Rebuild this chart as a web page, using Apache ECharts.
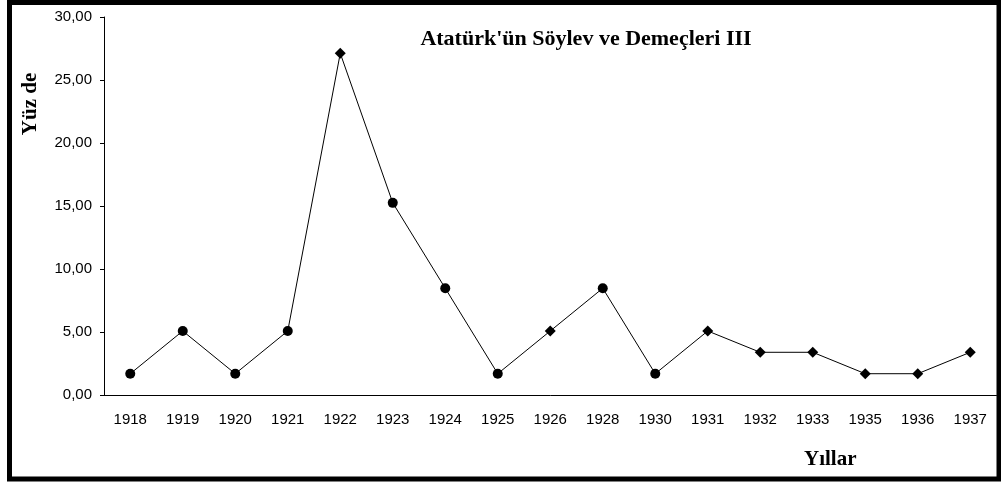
<!DOCTYPE html>
<html>
<head>
<meta charset="utf-8">
<script src="https://cdn.jsdelivr.net/npm/echarts@6/dist/echarts.min.js"></script>
<style>
  html, body { margin: 0; padding: 0; background: #fff; }
</style>
</head>
<body>
<div id="main" style="width: 1001px;height:483px;"></div>
<script>
// yıllar ve yüzde değerleri
var years = ['1918', '1919', '1920', '1921', '1922', '1923', '1924', '1925', '1926',
  '1928', '1930', '1931', '1932', '1933', '1935', '1936', '1937']
var percents = [1.69, 5.08, 1.69, 5.08, 27.12, 15.25, 8.47, 1.69, 5.08,
  8.47, 1.69, 5.08, 3.39, 3.39, 1.69, 1.69, 3.39]
var yTicks = [0, 5, 10, 15, 20, 25, 30]

var myChart = echarts.init(document.getElementById('main'))

var option = {
  animation: false,
  backgroundColor: '#fff',
  title: {
    text: "Atatürk'ün Söylev ve Demeçleri III",
    left: 581,
    top: 23,
    textAlign: 'center',
    textStyle: {
      fontFamily: 'Liberation Serif',
      fontWeight: 'bold',
      fontSize: 22,
      color: '#000'
    }
  },
  grid: {
    left: 104,
    right: 4.5,
    top: 17,
    bottom: 88
  },
  xAxis: {
    type: 'category',
    data: years,
    boundaryGap: true,
    axisLine: { lineStyle: { color: '#000', width: 1 } },
    axisTick: { inside: false, length: 4, lineStyle: { color: '#000' } },
    axisLabel: {
      margin: 17,
      color: '#000',
      fontFamily: 'Liberation Sans',
      fontSize: 15
    },
    splitLine: { show: false }
  },
  yAxis: {
    type: 'value',
    min: yTicks[0],
    max: yTicks[yTicks.length - 1],
    interval: 5,
    axisLine: { show: true, lineStyle: { color: '#000', width: 1 } },
    axisTick: { show: true, length: 4, lineStyle: { color: '#000' } },
    axisLabel: {
      margin: 12,
      color: '#000',
      fontFamily: 'Liberation Sans',
      fontSize: 15,
      formatter: function (v) {
        return v.toFixed(2).replace('.', ',')
      }
    },
    splitLine: { show: false }
  },
  series: [
    {
      type: 'line',
      data: percents,
      symbol: function (v, p) {
        return p.dataIndex >= 11 || p.dataIndex === 4 || p.dataIndex === 8 ? 'diamond' : 'circle'
      },
      symbolSize: function (v, p) {
        return p.dataIndex >= 11 || p.dataIndex === 4 || p.dataIndex === 8 ? 11 : 10
      },
      showAllSymbol: true,
      lineStyle: { color: '#000', width: 1 },
      itemStyle: { color: '#000', borderWidth: 0 }
    }
  ],
  graphic: [
    {
      type: 'text',
      left: 804,
      top: 449,
      style: {
        text: 'Yıllar',
        font: 'bold 21px "Liberation Serif"',
        fill: '#000'
      }
    },
    {
      type: 'text',
      x: 31,
      y: 104,
      rotation: Math.PI / 2,
      style: {
        text: 'Yüz de',
        font: 'bold 21px "Liberation Serif"',
        fill: '#000',
        align: 'center',
        verticalAlign: 'middle'
      }
    },
    {
      type: 'rect',
      shape: { x: 9.5, y: 2.5, width: 989.5, height: 476.5 },
      style: { fill: 'none', stroke: '#000', lineWidth: 5 },
      silent: true
    }
  ]
}

myChart.setOption(option)
</script>
</body>
</html>
